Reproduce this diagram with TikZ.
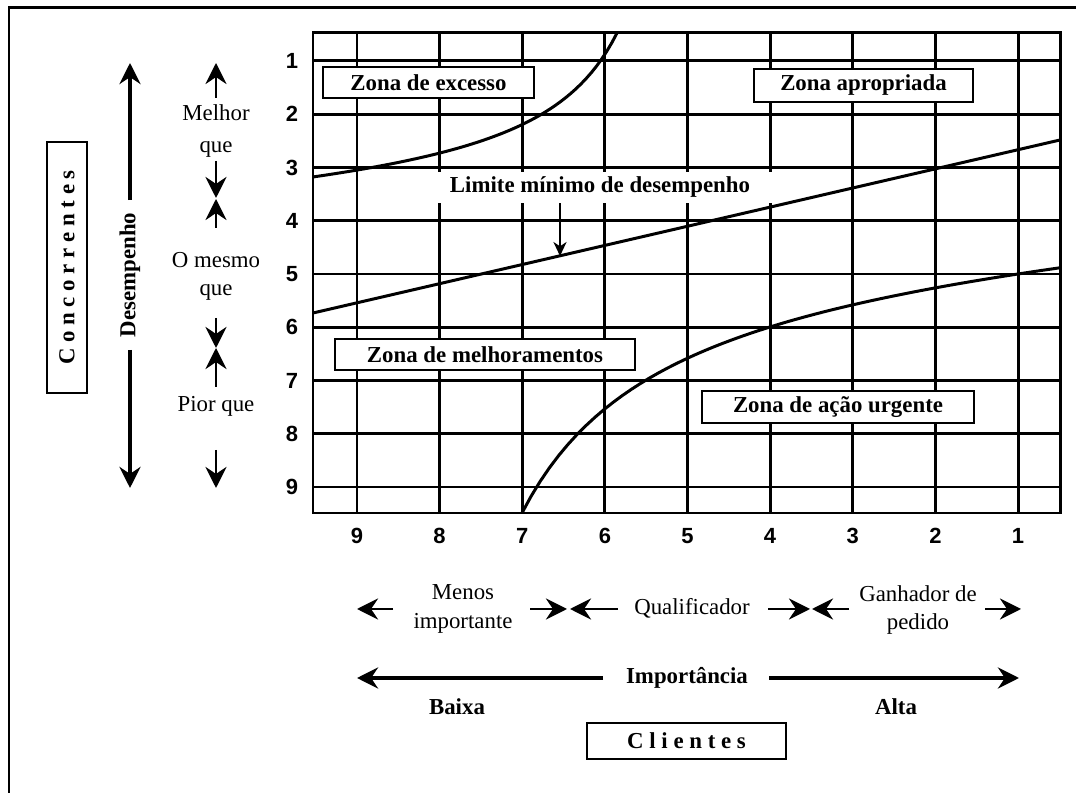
\documentclass[tikz,border=0pt]{standalone}
\usepackage{fontspec}
\setmainfont{Liberation Serif}
\newfontfamily\arialfont{Liberation Sans}
\usetikzlibrary{positioning,arrows.meta}
\tikzstyle{grade}=[line width=1.7pt]
\tikzstyle{curva}=[line width=1.7pt]
\tikzstyle{zona}=[draw, fill=white, line width=0.8pt, inner sep=0pt, font=\fontsize{13}{16}\selectfont\bfseries]
\tikzstyle{num}=[font=\arialfont\fontsize{12.5}{14}\selectfont\bfseries]
\tikzstyle{txt}=[align=center, font=\fontsize{13}{16}\selectfont]
\tikzstyle{negrito}=[font=\fontsize{13}{16}\selectfont\bfseries]
\tikzstyle{seta}=[line width=1.4pt, -{Stealth[length=12pt,width=12pt,inset=4pt]}]
\tikzstyle{setagrande}=[line width=2.3pt, -{Stealth[length=12pt,width=12pt,inset=4pt]}]
\tikzstyle{setafina}=[line width=1.1pt, -{Stealth[length=8pt,width=7.5pt,inset=2.5pt]}]

\begin{document}
\begin{tikzpicture}[x=0.02cm, y=-0.02cm]
				\useasboundingbox (0,0) rectangle (1076,793);
				% moldura
				\draw[line width=1.7pt] (9,800) -- (9,8) -- (1080,8);
				% grade
				\draw[grade] (313,33) rectangle (1060,513);
				\draw[grade] (313,61) -- (1060,61);
				\draw[grade] (313,114.25) -- (1060,114.25);
				\draw[grade] (313,167.5) -- (1060,167.5);
				\draw[grade] (313,220.75) -- (1060,220.75);
				\draw[grade] (313,274) -- (1060,274);
				\draw[grade] (313,327.25) -- (1060,327.25);
				\draw[grade] (313,380.5) -- (1060,380.5);
				\draw[grade] (313,433.75) -- (1060,433.75);
				\draw[grade] (313,487) -- (1060,487);
				\draw[grade] (357,33) -- (357,513);
				\draw[grade] (439.6,33) -- (439.6,513);
				\draw[grade] (522.25,33) -- (522.25,513);
				\draw[grade] (604.9,33) -- (604.9,513);
				\draw[grade] (687.5,33) -- (687.5,513);
				\draw[grade] (770.1,33) -- (770.1,513);
				\draw[grade] (852.75,33) -- (852.75,513);
				\draw[grade] (935.4,33) -- (935.4,513);
				\draw[grade] (1018,33) -- (1018,513);
				% escalas
				\node[num] (d1) at (292,61) {1};
				\node[num] (d2) at (292,114.25) {2};
				\node[num] (d3) at (292,167.5) {3};
				\node[num] (d4) at (292,220.75) {4};
				\node[num] (d5) at (292,274) {5};
				\node[num] (d6) at (292,327.25) {6};
				\node[num] (d7) at (292,380.5) {7};
				\node[num] (d8) at (292,433.75) {8};
				\node[num] (d9) at (292,487) {9};
				\node[num] (i9) at (357,536) {9};
				\node[num] (i8) at (439.6,536) {8};
				\node[num] (i7) at (522.25,536) {7};
				\node[num] (i6) at (604.9,536) {6};
				\node[num] (i5) at (687.5,536) {5};
				\node[num] (i4) at (770.1,536) {4};
				\node[num] (i3) at (852.75,536) {3};
				\node[num] (i2) at (935.4,536) {2};
				\node[num] (i1) at (1018,536) {1};
				% curvas
				\draw[curva] plot[domain=313:617, samples=60] (\x, {229-134.38/((700-\x)/100)-0.0553*\x});
				\draw[curva] (313,313) -- (1060,140);
				\draw[curva] plot[domain=522:1060, samples=60] (\x, {275.3+382.07/((\x-380)/100)-0.0601*\x});
				% zonas
				\node[zona, minimum width=4.22cm, minimum height=0.62cm] (excesso) at (428.5,82.5) {Zona de excesso};
				\node[zona, minimum width=4.38cm, minimum height=0.66cm] (apropriada) at (863.5,85.5) {Zona apropriada};
				\node[zona, minimum width=6cm, minimum height=0.62cm] (melhora) at (485,354.5) {Zona de melhoramentos};
				\node[zona, minimum width=5.44cm, minimum height=0.64cm] (urgente) at (838,407) {Zona de ação urgente};
				\node[negrito, fill=white, inner xsep=14pt, inner ysep=2.8pt] (limite) at (600,187.5) {Limite mínimo de desempenho};
				\coordinate (lim) at (560,256);
				\draw[setafina] (limite.south -| lim) -- (lim);
				% concorrentes
				\node[zona, rotate=90, minimum width=5.02cm, minimum height=0.8cm] (concor) at (67,267.5) {C o n c o r r e n t e s};
				\node[negrito, rotate=90, inner xsep=7pt] (desemp) at (130,275) {Desempenho};
				\coordinate (dtopo) at (130,63);
				\coordinate (dbase) at (130,488);
				\draw[setagrande] (desemp.east) -- (dtopo);
				\draw[setagrande] (desemp.west) -- (dbase);
				\node[txt] (melhor) at (216,131) {Melhor\\[2pt]que};
				\node[txt] (mesmo) at (216,276) {O mesmo\\que};
				\node[txt] (pior) at (216,406) {Pior que};
				\coordinate (m1) at (216,98);
				\coordinate (m2) at (216,63);
				\coordinate (m3) at (216,161);
				\coordinate (m4) at (216,198);
				\coordinate (o1) at (216,228);
				\coordinate (o2) at (216,199);
				\coordinate (o3) at (216,318);
				\coordinate (o4) at (216,348);
				\coordinate (p1) at (216,387);
				\coordinate (p2) at (216,348);
				\coordinate (p3) at (216,450);
				\coordinate (p4) at (216,488);
				\draw[seta] (m1) -- (m2);
				\draw[seta] (m3) -- (m4);
				\draw[seta] (o1) -- (o2);
				\draw[seta] (o3) -- (o4);
				\draw[seta] (p1) -- (p2);
				\draw[seta] (p3) -- (p4);
				% clientes
				\node[txt] (menos) at (463,609) {Menos\\importante};
				\node[txt] (qualif) at (692,608) {Qualificador};
				\node[txt] (ganha) at (918,610) {Ganhador de\\pedido};
				\coordinate (a1) at (393,609);
				\coordinate (a2) at (357,609);
				\coordinate (a3) at (530,609);
				\coordinate (a4) at (567,609);
				\coordinate (b1) at (618,609);
				\coordinate (b2) at (570,609);
				\coordinate (b3) at (768,609);
				\coordinate (b4) at (810,609);
				\coordinate (g1) at (849,609);
				\coordinate (g2) at (812,609);
				\coordinate (g3) at (985,609);
				\coordinate (g4) at (1021,609);
				\draw[seta] (a1) -- (a2);
				\draw[seta] (a3) -- (a4);
				\draw[seta] (b1) -- (b2);
				\draw[seta] (b3) -- (b4);
				\draw[seta] (g1) -- (g2);
				\draw[seta] (g3) -- (g4);
				\node[negrito] (import) at (687,678) {Importância};
				\coordinate (iesq) at (603,678);
				\coordinate (idir) at (769,678);
				\coordinate (ibaixa) at (357,678);
				\coordinate (ialta) at (1019,678);
				\draw[setagrande] (iesq) -- (ibaixa);
				\draw[setagrande] (idir) -- (ialta);
				\node[negrito] (baixa) at (457,707) {Baixa};
				\node[negrito] (alta) at (896,707) {Alta};
				\node[zona, minimum width=3.98cm, minimum height=0.72cm] (clientes) at (686.5,741) {C l i e n t e s};
			\end{tikzpicture}
\end{document}
